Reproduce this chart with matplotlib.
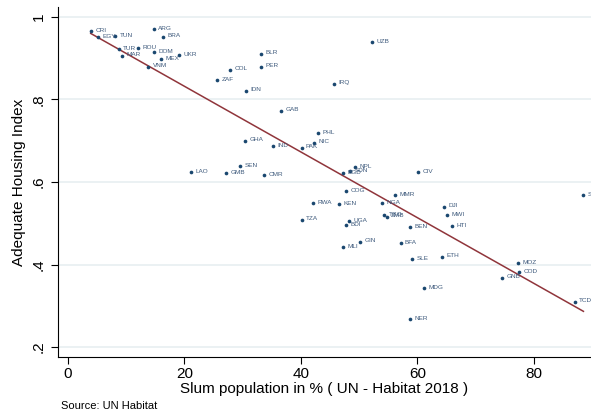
import numpy as np
import matplotlib.pyplot as plt

plt.rcParams['font.family'] = ['Liberation Sans', 'DejaVu Sans']

# country codes, slum share (%) and adequate housing index
codes = ['CRI', 'EGY', 'TUN', 'ARG', 'BRA', 'TUR', 'ROU', 'MAR', 'DOM', 'MEX',
         'UKR', 'VNM', 'COL', 'ZAF', 'IDN', 'BLR', 'PER', 'UZB', 'IRQ', 'GAB',
         'PHL', 'GHA', 'NIC', 'IND', 'PAK', 'SEN', 'LAO', 'GMB', 'CMR', 'NPL',
         'BGD', 'SDN', 'CIV', 'COG', 'RWA', 'KEN', 'MMR', 'NGA', 'DJI', 'TGO',
         'ZMB', 'MWI', 'TZA', 'UGA', 'BDI', 'HTI', 'BEN', 'GIN', 'MLI', 'BFA',
         'SLE', 'ETH', 'MDG', 'NER', 'SSD', 'MOZ', 'COD', 'GNB', 'TCD']
slum = [3.9, 5.2, 8.1, 14.7, 16.3, 8.7, 12.1, 9.2, 14.8, 16.0,
        19.1, 13.8, 27.8, 25.6, 30.6, 33.2, 33.1, 52.2, 45.7, 36.6,
        42.9, 30.4, 42.2, 35.2, 40.1, 29.5, 21.1, 27.1, 33.7, 49.3,
        47.2, 48.5, 60.1, 47.8, 42.1, 46.5, 56.1, 54.0, 64.5, 54.3,
        54.7, 65.1, 40.1, 48.3, 47.7, 66.0, 58.8, 50.2, 47.2, 57.1,
        59.1, 64.3, 61.2, 58.8, 88.5, 77.3, 77.5, 74.5, 87.0]
housing = [0.965, 0.951, 0.953, 0.970, 0.952, 0.922, 0.924, 0.906, 0.915, 0.898,
           0.907, 0.879, 0.872, 0.847, 0.821, 0.911, 0.879, 0.938, 0.838, 0.773,
           0.719, 0.700, 0.695, 0.687, 0.683, 0.638, 0.623, 0.621, 0.616, 0.636,
           0.622, 0.626, 0.624, 0.577, 0.549, 0.546, 0.568, 0.548, 0.540, 0.520,
           0.516, 0.519, 0.509, 0.505, 0.495, 0.493, 0.490, 0.455, 0.442, 0.451,
           0.413, 0.419, 0.342, 0.268, 0.568, 0.404, 0.381, 0.368, 0.310]

x_ticks = [0, 20, 40, 60, 80]
y_ticks = [0.2, 0.4, 0.6, 0.8, 1.0]
y_tick_lbls = ['.2', '.4', '.6', '.8', '1']

navy = '#1a476f'
maroon = '#90353b'

fig = plt.figure(figsize=(5.91, 4.15), dpi=100)
ax = fig.add_axes([0.0981, 0.1398, 0.9019, 0.8434])

x = np.array(slum)
y = np.array(housing)

for yt in y_ticks:
    ax.axhline(yt, color='#e9f0f2', lw=1.3, zorder=0)

ax.scatter(x, y, s=7, color=navy, zorder=3, linewidths=0)
for c, xi, yi in zip(codes, x, y):
    ax.annotate(c, (xi, yi), xytext=(3.2, 0.6), textcoords='offset points',
                ha='left', va='center', fontsize=4.6, color='#3e5a7c',
                annotation_clip=False)

# linear fit over the observed range
b, a = np.polyfit(x, y, 1)
xs = np.array([x.min(), x.max()])
ax.plot(xs, a + b * xs, color=maroon, lw=1.1, zorder=2)

ax.set_xlim(-1.72, 89.8)
ax.set_ylim(0.176, 1.024)

ax.set_xticks(x_ticks)
ax.set_yticks(y_ticks)
ax.set_yticklabels(y_tick_lbls, rotation=90, va='center')
ax.tick_params(axis='both', labelsize=11, length=5, width=0.8, color='black')
ax.tick_params(axis='x', pad=2)
ax.tick_params(axis='y', pad=4)

for s in ['top', 'right']:
    ax.spines[s].set_visible(False)
for s in ['left', 'bottom']:
    ax.spines[s].set_linewidth(0.8)

ax.set_xlabel('Slum population in % ( UN - Habitat 2018 )', fontsize=11, labelpad=1)
ax.set_ylabel('Adequate Housing Index', fontsize=11, labelpad=4)

fig.text(0.103, 0.015, 'Source: UN Habitat', fontsize=8)

fig.savefig('out.png', dpi=100)
